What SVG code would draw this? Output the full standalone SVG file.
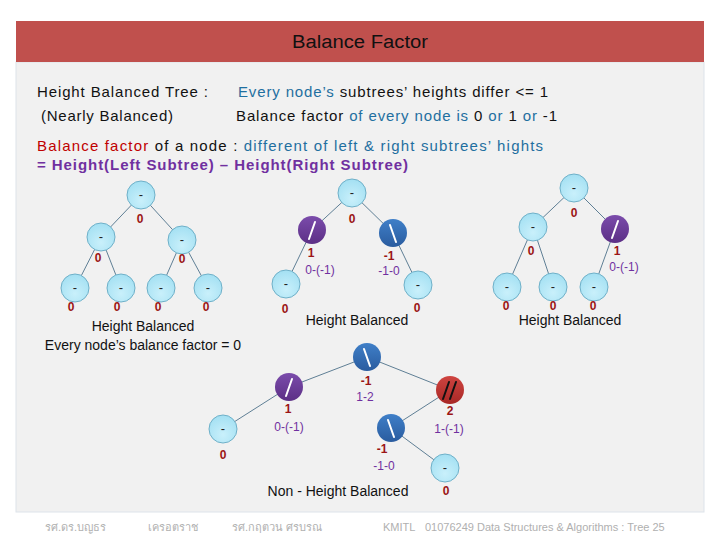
<svg xmlns="http://www.w3.org/2000/svg" width="720" height="540" viewBox="0 0 720 540">
<defs>
<radialGradient id="gL" cx="50%" cy="70%" r="65%"><stop offset="0" stop-color="#c9f0fb"/><stop offset="1" stop-color="#a6e1f3"/></radialGradient>
<linearGradient id="gP" x1="0" y1="0" x2="0" y2="1"><stop offset="0" stop-color="#7b4cab"/><stop offset="1" stop-color="#5c2f86"/></linearGradient>
<linearGradient id="gB" x1="0" y1="0" x2="0" y2="1"><stop offset="0" stop-color="#3f7fc8"/><stop offset="1" stop-color="#2a5c9f"/></linearGradient>
<linearGradient id="gR" x1="0" y1="0" x2="0" y2="1"><stop offset="0" stop-color="#cf4440"/><stop offset="1" stop-color="#a82826"/></linearGradient>
</defs>
<style>
.lt{fill:url(#gL);stroke:#6fb0c8;stroke-width:1}
.pu{fill:url(#gP)}
.bl{fill:url(#gB)}
.rd{fill:url(#gR)}
.dash{font-family:"Liberation Sans",sans-serif;font-size:13px;fill:#222;text-anchor:middle}
.sl{stroke:#fff;stroke-width:2;stroke-linecap:round}
.sk{stroke:#111;stroke-width:2;stroke-linecap:round}
.bf{font-family:"Liberation Sans",sans-serif;font-size:12px;font-weight:bold;fill:#9b1515;text-anchor:middle}
.fm{font-family:"Liberation Sans",sans-serif;font-size:12px;fill:#7030a0;text-anchor:middle}
.cap{font-family:"Liberation Sans",sans-serif;font-size:14px;fill:#111;text-anchor:middle}
.edges line{stroke:#5f7f95;stroke-width:1}
.top{font-family:"Liberation Sans",sans-serif;font-size:15px;fill:#111}
.bluet{fill:#1f6fa0}
.redt{fill:#c00000}
.purt{fill:#7030a0;font-weight:bold}
.ft{font-family:"Liberation Sans","Noto Sans",sans-serif;font-size:11px;fill:#b0b0b0}
</style>
<rect width="720" height="540" fill="#fff"/>
<rect x="16" y="62" width="688" height="450" fill="#f1f1f1" stroke="#dde3ea" stroke-width="1"/>
<rect x="16" y="21" width="688" height="41" fill="#c0504d"/>
<text x="292" y="48" font-family="Liberation Sans,sans-serif" font-size="18" fill="#111" textLength="136" lengthAdjust="spacingAndGlyphs">Balance Factor</text>

<text class="top" x="37" y="97" textLength="171" lengthAdjust="spacing">Height Balanced Tree :</text>
<text class="top" x="41" y="121" textLength="132" lengthAdjust="spacing">(Nearly Balanced)</text>
<text class="top" x="238" y="97" textLength="310" lengthAdjust="spacing"><tspan class="bluet">Every node’s</tspan> subtrees’ heights differ &lt;= 1</text>
<text class="top" x="236" y="121" textLength="321" lengthAdjust="spacing">Balance factor <tspan class="bluet">of every node is</tspan> 0 <tspan class="bluet">or</tspan> 1 <tspan class="bluet">or</tspan> -1</text>
<text class="top" x="37" y="151" textLength="506" lengthAdjust="spacing"><tspan class="redt">Balance factor</tspan> of a node : <tspan class="bluet">different of left &amp; right subtrees’ hights</tspan></text>
<text class="top purt" x="37" y="170" textLength="371" lengthAdjust="spacing">= Height(Left Subtree) – Height(Right Subtree)</text>

<g class="edges" id="connectors">
<line x1="141" y1="195" x2="101" y2="237"/><line x1="141" y1="195" x2="182" y2="240"/>
<line x1="101" y1="237" x2="75" y2="288"/><line x1="101" y1="237" x2="121" y2="288"/>
<line x1="182" y1="240" x2="161" y2="288"/><line x1="182" y1="240" x2="208" y2="288"/>
<line x1="352" y1="193" x2="312" y2="230"/><line x1="352" y1="193" x2="393" y2="233"/>
<line x1="312" y1="230" x2="286" y2="284"/><line x1="393" y1="233" x2="418" y2="285"/>
<line x1="574" y1="188" x2="533" y2="227"/><line x1="574" y1="188" x2="615" y2="229"/>
<line x1="533" y1="227" x2="507" y2="287"/><line x1="533" y1="227" x2="553" y2="287"/>
<line x1="615" y1="229" x2="594" y2="287"/>
<line x1="367" y1="357" x2="289" y2="387"/><line x1="367" y1="357" x2="450" y2="390"/>
<line x1="289" y1="387" x2="223" y2="429"/><line x1="450" y1="390" x2="391" y2="428"/>
<line x1="391" y1="428" x2="445" y2="468"/>
</g>

<!-- Tree 1 -->
<g id="t1-root"><circle class="lt" cx="141" cy="195" r="14"/><text class="dash" x="141" y="199">-</text><text class="bf" x="140" y="223">0</text></g>
<g id="t1-l"><circle class="lt" cx="101" cy="237" r="14"/><text class="dash" x="101" y="241">-</text><text class="bf" x="98" y="262">0</text></g>
<g id="t1-r"><circle class="lt" cx="182" cy="240" r="14"/><text class="dash" x="182" y="244">-</text><text class="bf" x="182" y="263">0</text></g>
<g id="t1-ll"><circle class="lt" cx="75" cy="288" r="14"/><text class="dash" x="75" y="292">-</text><text class="bf" x="71" y="311">0</text></g>
<g id="t1-lr"><circle class="lt" cx="121" cy="288" r="14"/><text class="dash" x="121" y="292">-</text><text class="bf" x="117" y="311">0</text></g>
<g id="t1-rl"><circle class="lt" cx="161" cy="288" r="14"/><text class="dash" x="161" y="292">-</text><text class="bf" x="158" y="311">0</text></g>
<g id="t1-rr"><circle class="lt" cx="208" cy="288" r="14"/><text class="dash" x="208" y="292">-</text><text class="bf" x="206" y="311">0</text></g>
<text class="cap" x="143" y="331">Height Balanced</text>
<text class="cap" x="143" y="350">Every node’s balance factor = 0</text>

<!-- Tree 2 -->
<g id="t2-root"><circle class="lt" cx="352" cy="193" r="14"/><text class="dash" x="352" y="197">-</text><text class="bf" x="352" y="223">0</text></g>
<g id="t2-l"><circle class="pu" cx="312" cy="230" r="14"/><line class="sl" x1="315" y1="222" x2="309" y2="239"/><text class="bf" x="311" y="257">1</text><text class="fm" x="320" y="274">0-(-1)</text></g>
<g id="t2-r"><circle class="bl" cx="393" cy="233" r="14"/><line class="sl" x1="390" y1="225" x2="396" y2="242"/><text class="bf" x="389" y="260">-1</text><text class="fm" x="389" y="275">-1-0</text></g>
<g id="t2-ll"><circle class="lt" cx="286" cy="284" r="14"/><text class="dash" x="286" y="288">-</text><text class="bf" x="285" y="313">0</text></g>
<g id="t2-rr"><circle class="lt" cx="418" cy="285" r="14"/><text class="dash" x="418" y="289">-</text><text class="bf" x="417" y="312">0</text></g>
<text class="cap" x="357" y="325">Height Balanced</text>

<!-- Tree 3 -->
<g id="t3-root"><circle class="lt" cx="574" cy="188" r="14"/><text class="dash" x="574" y="192">-</text><text class="bf" x="574" y="217">0</text></g>
<g id="t3-l"><circle class="lt" cx="533" cy="227" r="14"/><text class="dash" x="533" y="231">-</text><text class="bf" x="531" y="255">0</text></g>
<g id="t3-r"><circle class="pu" cx="615" cy="229" r="14"/><line class="sl" x1="618" y1="221" x2="612" y2="238"/><text class="bf" x="617" y="255">1</text><text class="fm" x="624" y="271">0-(-1)</text></g>
<g id="t3-ll"><circle class="lt" cx="507" cy="287" r="14"/><text class="dash" x="507" y="291">-</text><text class="bf" x="506" y="310">0</text></g>
<g id="t3-lr"><circle class="lt" cx="553" cy="287" r="14"/><text class="dash" x="553" y="291">-</text><text class="bf" x="553" y="310">0</text></g>
<g id="t3-rl"><circle class="lt" cx="594" cy="287" r="14"/><text class="dash" x="594" y="291">-</text><text class="bf" x="593" y="310">0</text></g>
<text class="cap" x="570" y="325">Height Balanced</text>

<!-- Tree 4 -->
<g id="t4-root"><circle class="bl" cx="367" cy="357" r="14"/><line class="sl" x1="364" y1="349" x2="370" y2="366"/><text class="bf" x="366" y="385">-1</text><text class="fm" x="365" y="401">1-2</text></g>
<g id="t4-l"><circle class="pu" cx="289" cy="387" r="14"/><line class="sl" x1="292" y1="379" x2="286" y2="396"/><text class="bf" x="288" y="413">1</text><text class="fm" x="289" y="431">0-(-1)</text></g>
<g id="t4-r"><circle class="rd" cx="450" cy="390" r="14"/><line class="sk" x1="449" y1="382" x2="443" y2="399"/><line class="sk" x1="456" y1="382" x2="450" y2="399"/><text class="bf" x="450" y="415">2</text><text class="fm" x="449" y="433">1-(-1)</text></g>
<g id="t4-ll"><circle class="lt" cx="223" cy="429" r="14"/><text class="dash" x="223" y="433">-</text><text class="bf" x="223" y="459">0</text></g>
<g id="t4-rl"><circle class="bl" cx="391" cy="428" r="14"/><line class="sl" x1="388" y1="420" x2="394" y2="437"/><text class="bf" x="382" y="453">-1</text><text class="fm" x="384" y="470">-1-0</text></g>
<g id="t4-rlr"><circle class="lt" cx="445" cy="468" r="14"/><text class="dash" x="445" y="472">-</text><text class="bf" x="446" y="495">0</text></g>
<text class="cap" x="338" y="496">Non - Height Balanced</text>

<text class="ft" x="45" y="531">รศ.ดร.บญธร</text>
<text class="ft" x="148" y="531">เครอตราช</text>
<text class="ft" x="232" y="531">รศ.กฤตวน  ศรบรณ</text>
<text class="ft" x="383" y="531">KMITL</text>
<text class="ft" x="425" y="531">01076249 Data Structures &amp; Algorithms : Tree 25</text>
</svg>
